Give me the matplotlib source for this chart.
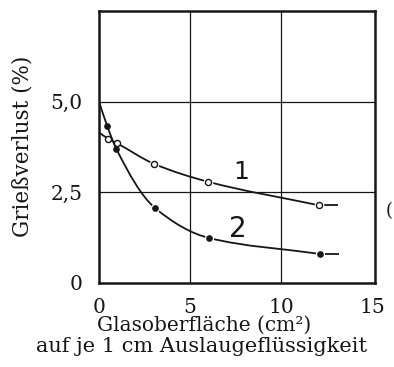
import numpy as np
import matplotlib
matplotlib.use("Agg")
import matplotlib.pyplot as plt
from matplotlib.path import Path
from matplotlib.patches import PathPatch

# Kurve 1: offene Kreise, Kurve 2: volle Punkte
x1 = [0.5, 1.0, 3.0, 6.0, 12.1]
y1 = [3.98, 3.85, 3.29, 2.79, 2.14]
start1 = (0.0, 4.15)
end1 = (13.1, 2.14)

x2 = [0.45, 0.95, 3.05, 6.05, 12.15]
y2 = [4.33, 3.70, 2.08, 1.24, 0.80]
start2 = (0.0, 5.0)
end2 = (13.2, 0.80)

xticks = [0, 5, 10, 15]
yticks = [0, 2.5, 5.0]
yticklabels = ["0", "2,5", "5,0"]

INK = "#161616"
plt.rcParams["font.family"] = ["DejaVu Serif"]

fig = plt.figure(figsize=(3.94, 3.67), dpi=100)
ax = fig.add_axes([99 / 394, 1 - 283 / 367, 276 / 394, 272 / 367])
ax.set_xlim(0, 15.15)
ax.set_ylim(0, 7.5)


def smooth_path(xs, ys):
    """Monotone cubic (Fritsch-Carlson) curve through the points as Bezier path."""
    x = np.asarray(xs, float)
    y = np.asarray(ys, float)
    h = np.diff(x)
    d = np.diff(y) / h
    m = np.zeros_like(x)
    m[0], m[-1] = d[0], d[-1]
    for i in range(1, len(x) - 1):
        if d[i - 1] * d[i] <= 0:
            m[i] = 0.0
        else:
            w1 = 2 * h[i] + h[i - 1]
            w2 = h[i] + 2 * h[i - 1]
            m[i] = (w1 + w2) / (w1 / d[i - 1] + w2 / d[i])
    verts = [(x[0], y[0])]
    codes = [Path.MOVETO]
    for i in range(len(x) - 1):
        verts += [(x[i] + h[i] / 3, y[i] + m[i] * h[i] / 3),
                  (x[i + 1] - h[i] / 3, y[i + 1] - m[i + 1] * h[i] / 3),
                  (x[i + 1], y[i + 1])]
        codes += [Path.CURVE4] * 3
    return Path(verts, codes)


for (sx, sy), xs, ys, (ex, ey) in [(start1, x1, y1, end1), (start2, x2, y2, end2)]:
    ax.add_patch(PathPatch(smooth_path([sx] + xs, [sy] + ys), fill=False,
                           lw=1.3, edgecolor=INK, capstyle="butt", zorder=3))
    ax.plot([xs[-1], ex], [ys[-1], ey], color=INK, lw=1.3,
            solid_capstyle="butt", zorder=3)

# narrow white halos so the line stops just short of the outer markers
ax.plot(x1[2:], y1[2:], ls="none", marker="o", ms=6.0, mfc="white",
        mec="white", zorder=4)
ax.plot(x2[2:], y2[2:], ls="none", marker="o", ms=5.6, mfc="white",
        mec="white", zorder=4)

ax.plot(x1, y1, ls="none", marker="o", ms=4.4, mfc="white", mec=INK,
        mew=1.0, zorder=5)
ax.plot(x2, y2, ls="none", marker="o", ms=3.8, mfc=INK, mec=INK, zorder=5)

ax.text(7.8, 3.07, "1", fontsize=18, family="DejaVu Sans", ha="center",
        va="center", color=INK)
ax.text(7.6, 1.5, "2", fontsize=20, family="DejaVu Sans", ha="center",
        va="center", color=INK)

for v in [5, 10]:
    ax.axvline(v, color=INK, lw=0.9, zorder=1)
for v in [2.5, 5.0]:
    ax.axhline(v, color=INK, lw=0.9, zorder=1)

for s in ax.spines.values():
    s.set_linewidth(1.8)
    s.set_color(INK)

ax.set_xticks(xticks)
ax.set_yticks(yticks)
ax.set_yticklabels(yticklabels)
ax.tick_params(length=0, labelsize=14.5, colors=INK)
ax.tick_params(axis="y", pad=12)
ax.tick_params(axis="x", pad=10.5)

fig.text(23 / 394, 1 - 146 / 367, "Grießverlust (%)", fontsize=15.5,
         rotation=90, ha="center", va="center", color=INK)
fig.text(204 / 394, 1 - 325 / 367, "Glasoberfläche (cm²)", fontsize=14.5,
         ha="center", va="center", color=INK)
fig.text(202 / 394, 1 - 346 / 367, "auf je 1 cm Auslaugeflüssigkeit",
         fontsize=15, ha="center", va="center", color=INK)
fig.text(386 / 394, 1 - 211 / 367, "(", fontsize=13, ha="left", va="center",
         color=INK)

fig.savefig("out.png", dpi=100)
